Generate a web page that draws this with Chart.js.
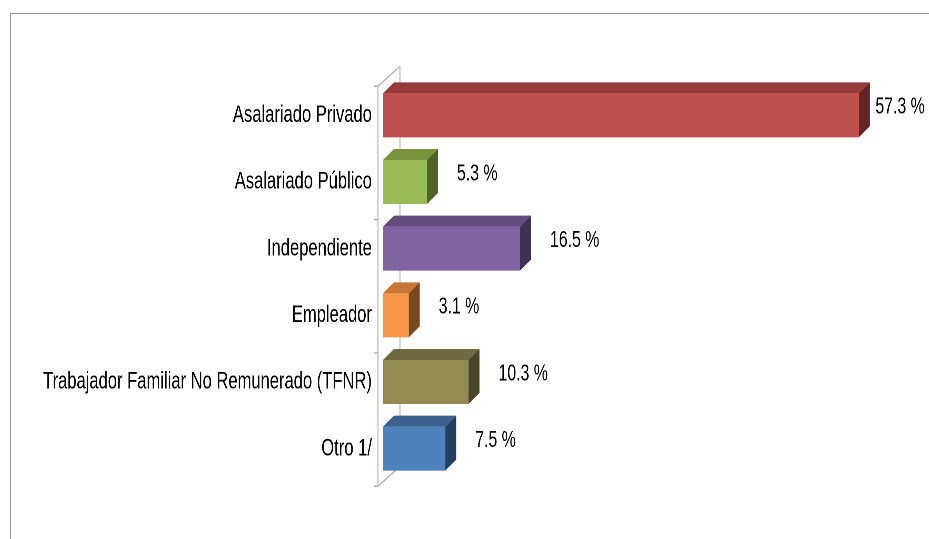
<!DOCTYPE html>
<html lang="es">
<head>
    <meta charset="UTF-8">
    <meta name="viewport" content="width=device-width, initial-scale=1.0">
    <title>Posición en el empleo</title>
    <script src="https://cdn.jsdelivr.net/npm/chart.js"></script>
    <style>
        html, body { margin: 0; padding: 0; background: #fff; overflow: hidden; }
        .marco { position: absolute; left: 10px; top: 13px; width: 960px; height: 560px; border-top: 1px solid #999; border-left: 1px solid #999; }
        /* el texto del original es muy estrecho: se dibuja más ancho y se comprime */
        .lienzo { position: absolute; left: 0; top: 0; width: 1346px; height: 539px; transform: scaleX(0.69); transform-origin: 0 0; }
    </style>
</head>
<body>
    <div class="marco"></div>
    <div class="lienzo"><canvas id="grafico"></canvas></div>

    <script>
        const categorias = ['Asalariado Privado', 'Asalariado Público', 'Independiente', 'Empleador', 'Trabajador Familiar No Remunerado (TFNR)', 'Otro 1/'];
        const porcentajes = [57.3, 5.3, 16.5, 3.1, 10.3, 7.5];
        const coloresFrente = ['#C0504D', '#9BBB59', '#8064A2', '#F79646', '#948A54', '#4F81BD'];
        const coloresArriba = ['#953B39', '#77933C', '#624B7D', '#C97533', '#6F6840', '#3B628F'];
        const coloresLado = ['#632523', '#4F6228', '#3F3151', '#7A4A1E', '#4A452A', '#243F60'];

        const S = 0.69;                 // compresión horizontal del lienzo
        const prof = { dx: 11 / S, dy: 11 };
        const fuente = '"Liberation Sans", Arial, sans-serif';

        const barras3d = {
            id: 'barras3d',
            beforeDatasetsDraw(chart) {
                const { ctx, chartArea: a } = chart;
                const banda = (a.bottom - a.top) / categorias.length;
                const fx = a.left - 5 / S, bx = fx + 22 / S;
                const y0 = a.top + 4.3, y1 = a.bottom + 4.3, dyPared = 20;
                ctx.save();
                ctx.strokeStyle = '#a6a6a6';
                ctx.lineWidth = 1.3;
                ctx.beginPath();
                ctx.moveTo(fx, y0); ctx.lineTo(fx, y1);
                ctx.moveTo(bx, y0 - dyPared); ctx.lineTo(bx, y1 - dyPared);
                ctx.moveTo(fx, y0); ctx.lineTo(bx, y0 - dyPared);
                ctx.moveTo(fx, y1); ctx.lineTo(bx, y1 - dyPared);
                for (let k = 0; k <= categorias.length; k += 2) {
                    const ty = y0 + k * banda;
                    ctx.moveTo(fx - 6, ty); ctx.lineTo(fx, ty);
                }
                ctx.stroke();
                ctx.restore();
            },
            afterDatasetsDraw(chart) {
                const { ctx } = chart;
                const meta = chart.getDatasetMeta(0);
                ctx.save();
                meta.data.forEach((bar, i) => {
                    const { x, y, base, height } = bar.getProps(['x', 'y', 'base', 'height'], true);
                    const arriba = y - height / 2, abajo = y + height / 2;
                    // cara superior
                    ctx.fillStyle = coloresArriba[i];
                    ctx.beginPath();
                    ctx.moveTo(base, arriba);
                    ctx.lineTo(x, arriba);
                    ctx.lineTo(x + prof.dx, arriba - prof.dy);
                    ctx.lineTo(base + prof.dx, arriba - prof.dy);
                    ctx.closePath();
                    ctx.fill();
                    // cara lateral
                    ctx.fillStyle = coloresLado[i];
                    ctx.beginPath();
                    ctx.moveTo(x, arriba);
                    ctx.lineTo(x + prof.dx, arriba - prof.dy);
                    ctx.lineTo(x + prof.dx, abajo - prof.dy);
                    ctx.lineTo(x, abajo);
                    ctx.closePath();
                    ctx.fill();
                });
                // etiquetas de valor
                ctx.font = '23px ' + fuente;
                ctx.fillStyle = '#000';
                ctx.textBaseline = 'middle';
                ctx.textAlign = 'left';
                meta.data.forEach((bar, i) => {
                    const { x, y } = bar.getProps(['x', 'y'], true);
                    const texto = porcentajes[i].toFixed(1) + ' %';
                    const w = ctx.measureText(texto).width;
                    const tx = Math.min(x + prof.dx + 19 / S, chart.width - w - 4 / S);
                    ctx.fillText(texto, tx, y - 8);
                });
                ctx.restore();
            }
        };

        const ctx = document.getElementById('grafico').getContext('2d');
        const chart = new Chart(ctx, {
            type: 'bar',
            data: {
                labels: categorias,
                datasets: [{
                    data: porcentajes,
                    backgroundColor: coloresFrente,
                    borderWidth: 0,
                    barPercentage: 0.66,
                    categoryPercentage: 1
                }]
            },
            options: {
                indexAxis: 'y',
                responsive: true,
                maintainAspectRatio: false,
                devicePixelRatio: 2,
                animation: false,
                layout: { padding: { top: 82, bottom: 57, right: 69, left: 0 } },
                plugins: { legend: { display: false }, tooltip: { enabled: false } },
                scales: {
                    x: { display: false, min: 0, max: 60 },
                    y: {
                        grid: { display: false, drawTicks: false },
                        border: { display: false },
                        ticks: { font: { family: fuente, size: 24 }, color: '#000', padding: 16 },
                        afterFit(scale) { scale.width = 555; }
                    }
                }
            },
            plugins: [barras3d]
        });
    </script>
</body>
</html>
